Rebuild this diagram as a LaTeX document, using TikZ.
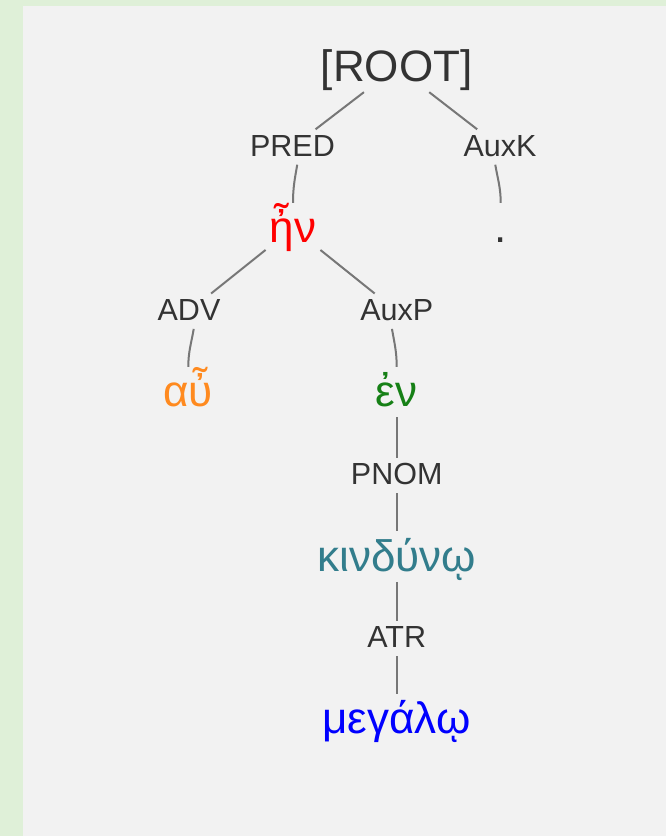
\documentclass[tikz,border=0pt]{standalone}
\usepackage{fontspec}
\setmainfont{Liberation Sans}
\definecolor{bgframe}{HTML}{DFF0D8}
\definecolor{bgpanel}{HTML}{F2F2F2}
\definecolor{relgray}{HTML}{333333}
\definecolor{linkgray}{HTML}{777777}
\definecolor{wordorange}{HTML}{FF8A1F}
\definecolor{wordgreen}{HTML}{168016}
\definecolor{wordteal}{HTML}{327D8C}
\tikzset{
  word/.style={anchor=base, inner sep=4pt, text height=36pt, text depth=6pt, font=\fontsize{44}{50}\selectfont},
  rel/.style={anchor=base, inner sep=4pt, text height=23pt, text depth=4pt, text=relgray, font=\fontsize{30.5}{36}\selectfont},
  link/.style={draw=linkgray, line width=2pt}
}

\begin{document}
\begin{tikzpicture}[x=1pt,y=1pt]
    \fill[bgframe] (0,0) rectangle (666,836);
    \fill[bgpanel] (23,0) rectangle (666,830);
    \useasboundingbox (0,0) rectangle (666,836);
    \node[word, text=relgray] (root) at (396.7,754) {[ROOT]};
    \node[rel] (pred) at (292.5,679.5) {PRED};
    \node[rel] (auxk) at (500,679.5) {AuxK};
    \node[word, text=red] (hen) at (293,593) {ἦν};
    \node[word, text=relgray] (dot) at (500.7,593) {.};
    \node[rel] (adv) at (189,515.3) {ADV};
    \node[rel] (auxp) at (396.7,515.3) {AuxP};
    \node[word, text=wordorange] (au) at (188.3,429) {αὖ};
    \node[word, text=wordgreen] (en) at (396.7,429) {ἐν};
    \node[rel] (pnom) at (396.7,351) {PNOM};
    \node[word, text=wordteal] (kind) at (396.7,264.3) {κινδύνῳ};
    \node[rel] (atr) at (396.7,188) {ATR};
    \node[word, text=blue] (meg) at (396.7,102) {μεγάλῳ};
    \draw[link] (root) -- (pred);
    \draw[link] (root) -- (auxk);
    \draw[link] (pred.-75) to[out=-100,in=90] (hen.north);
    \draw[link] (auxk.-105) to[out=-80,in=90] (dot.north);
    \draw[link] (hen) -- (adv);
    \draw[link] (hen) -- (auxp);
    \draw[link] (adv.-75) to[out=-100,in=90] (au.north);
    \draw[link] (auxp.-105) to[out=-80,in=90] (en.north);
    \draw[link] (en) -- (pnom);
    \draw[link] (pnom) -- (kind);
    \draw[link] (kind) -- (atr);
    \draw[link] (atr) -- (meg);
\end{tikzpicture}
\end{document}
